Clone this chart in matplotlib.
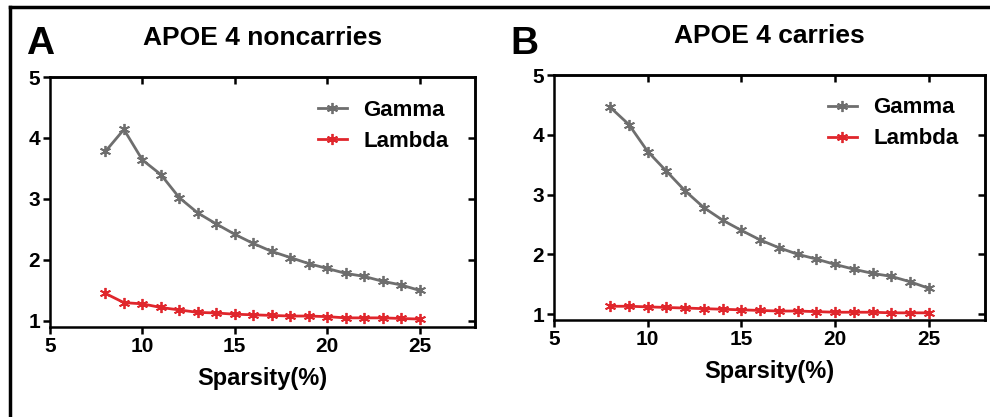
import numpy as np
import matplotlib.pyplot as plt
from matplotlib.lines import Line2D

plt.rcParams['font.family'] = ['Liberation Sans', 'DejaVu Sans']
plt.rcParams['font.weight'] = 'bold'

sparsity = list(range(8, 26))

gamma_non = [3.78, 4.14, 3.64, 3.40, 3.02, 2.77, 2.59, 2.42, 2.27, 2.14,
             2.04, 1.94, 1.86, 1.78, 1.73, 1.65, 1.59, 1.50]
lambda_non = [1.45, 1.30, 1.28, 1.22, 1.18, 1.14, 1.13, 1.11, 1.10, 1.09,
              1.08, 1.08, 1.07, 1.05, 1.05, 1.05, 1.04, 1.03]

gamma_car = [4.46, 4.17, 3.72, 3.39, 3.06, 2.78, 2.57, 2.40, 2.24, 2.11,
             2.00, 1.92, 1.83, 1.75, 1.68, 1.63, 1.54, 1.43]
lambda_car = [1.13, 1.13, 1.12, 1.11, 1.10, 1.09, 1.08, 1.07, 1.06, 1.05,
              1.05, 1.04, 1.03, 1.03, 1.03, 1.02, 1.02, 1.02]

titles = ['APOE 4 noncarries', 'APOE 4 carries']
series = [(gamma_non, lambda_non), (gamma_car, lambda_car)]

gray = '#6e6e6e'
red = '#e0262c'

fig = plt.figure(figsize=(9.9, 4.17), dpi=100)

# outer frame (left + top lines)
fig.add_artist(Line2D([0.0101, 0.0101], [0, 0.983], color='black', lw=2.5,
                      transform=fig.transFigure))
fig.add_artist(Line2D([0.0101, 1.0], [0.983, 0.983], color='black', lw=2.5,
                      transform=fig.transFigure))

positions = [[0.0505, 0.2158, 0.4293, 0.5995],
             [0.5596, 0.2326, 0.4354, 0.5875]]

for k in range(2):
    ax = fig.add_axes(positions[k])
    g, l = series[k]
    ax.plot(sparsity, g, color=gray, lw=2, marker=(6, 2, 0), ms=8, mew=1.3,
            label='Gamma')
    ax.plot(sparsity, l, color=red, lw=2, marker=(6, 2, 0), ms=8, mew=1.3,
            label='Lambda')
    ax.set_xlim(5, 28)
    ax.set_ylim(0.9, 5)
    ax.set_xticks([5, 10, 15, 20, 25])
    ax.set_yticks([1, 2, 3, 4, 5])
    for s in ax.spines.values():
        s.set_linewidth(1.8)
    ax.tick_params(axis='both', which='both', direction='out', length=5,
                   width=1.8, labelsize=15, pad=2)
    ax.set_xlabel('Sparsity(%)', fontsize=17, fontweight='bold', labelpad=8)
    for lab in ax.get_xticklabels() + ax.get_yticklabels():
        lab.set_fontweight('bold')
    # inward ticks on top and right
    sec_x = ax.secondary_xaxis('top')
    sec_x.set_xticks([10, 15, 20, 25])
    sec_x.tick_params(direction='in', length=5, width=1.8, labeltop=False)
    sec_y = ax.secondary_yaxis('right')
    sec_y.set_yticks([1, 2, 3, 4])
    sec_y.tick_params(direction='in', length=5, width=1.8, labelright=False)
    sec_x.spines['top'].set_linewidth(1.8)
    sec_y.spines['right'].set_linewidth(1.8)
    ax.legend(loc='upper right', frameon=False, handlelength=1.3,
              handletextpad=0.75, labelspacing=0.45,
              bbox_to_anchor=(0.985, 0.99),
              prop={'weight': 'bold', 'size': 16})
    ax.set_title(titles[k], fontsize=19, fontweight='bold', pad=23)

fig.text(0.026, 0.87, 'A', fontsize=28, fontweight='bold')
fig.text(0.516, 0.87, 'B', fontsize=28, fontweight='bold')

fig.savefig('out.png', dpi=100)
